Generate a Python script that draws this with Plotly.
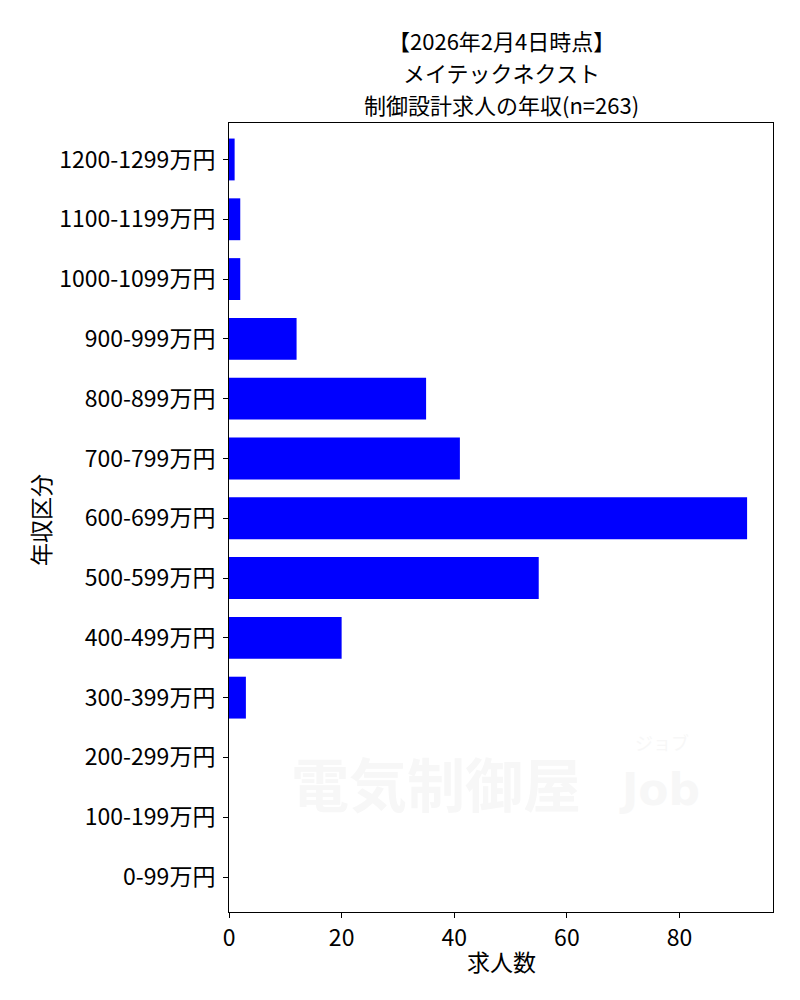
import plotly.graph_objects as go

categories = ["0-99万円", "100-199万円", "200-299万円", "300-399万円", "400-499万円",
              "500-599万円", "600-699万円", "700-799万円", "800-899万円", "900-999万円",
              "1000-1099万円", "1100-1199万円", "1200-1299万円"]
counts = [0, 0, 0, 3, 20, 55, 92, 41, 35, 12, 2, 2, 1]
title_lines = ["【2026年2月4日時点】", "メイテックネクスト", "制御設計求人の年収(n=263)"]

FONT = "Noto Sans CJK JP"
W, H = 800, 1000
ML, MR, MT, MB = 229, 27, 123, 88

fig = go.Figure()
fig.add_trace(go.Bar(
    x=counts, y=categories, orientation="h",
    marker=dict(color="#0000ff", line=dict(width=0)),
    width=0.7,
))

# faint watermark
wm = "#f7f7f7"
fig.add_annotation(text="<b>電気制御屋</b>", xref="paper", yref="paper", x=0.11, y=0.165,
                   xanchor="left", yanchor="middle", showarrow=False,
                   font=dict(family=FONT, size=58, color=wm))
fig.add_annotation(text="<b>Job</b>", xref="paper", yref="paper", x=0.87, y=0.155,
                   xanchor="right", yanchor="middle", showarrow=False,
                   font=dict(family="DejaVu Sans", size=44, color=wm))
fig.add_annotation(text="ジョブ", xref="paper", yref="paper", x=0.85, y=0.215,
                   xanchor="right", yanchor="middle", showarrow=False,
                   font=dict(family=FONT, size=18, color=wm))

plot_h = H - MT - MB
# title lines (pixel centers from the top of the figure)
for line, yc in zip(title_lines, [40, 72, 104]):
    fig.add_annotation(text=line, xref="paper", yref="paper", x=0.5,
                       y=(H - MB - yc) / plot_h, xanchor="center", yanchor="middle",
                       showarrow=False, font=dict(family=FONT, size=22, color="black"))

# axis titles
fig.add_annotation(text="求人数", xref="paper", yref="paper", x=0.5,
                   y=(H - MB - 961) / plot_h, xanchor="center", yanchor="middle",
                   showarrow=False, font=dict(family=FONT, size=23, color="black"))
fig.add_annotation(text="年収区分", xref="paper", yref="paper",
                   x=(40 - ML) / (W - ML - MR), y=(H - MB - 520) / plot_h,
                   xanchor="center", yanchor="middle", textangle=-90,
                   showarrow=False, font=dict(family=FONT, size=23, color="black"))

fig.update_layout(
    width=W, height=H,
    margin=dict(l=ML, r=MR, t=MT, b=MB, autoexpand=False),
    paper_bgcolor="white", plot_bgcolor="white",
    showlegend=False,
    font=dict(family=FONT, color="black", size=23),
    xaxis=dict(
        range=[0, 96.6], tickmode="array", tickvals=[0, 20, 40, 60, 80],
        showgrid=False, zeroline=False, automargin=False,
        showline=True, linecolor="black", linewidth=1, mirror=True,
        ticks="outside", ticklen=5, tickcolor="black",
        tickfont=dict(family=FONT, size=23),
    ),
    yaxis=dict(
        type="category", range=[-0.585, 12.61],
        showgrid=False, zeroline=False, automargin=False,
        showline=True, linecolor="black", linewidth=1, mirror=True,
        ticks="outside", ticklen=5, tickcolor="black", ticklabelstandoff=3,
        tickfont=dict(family=FONT, size=23),
    ),
)

fig.write_html("out.html", config={"displayModeBar": False},
               post_script="document.body.style.margin='0';")
